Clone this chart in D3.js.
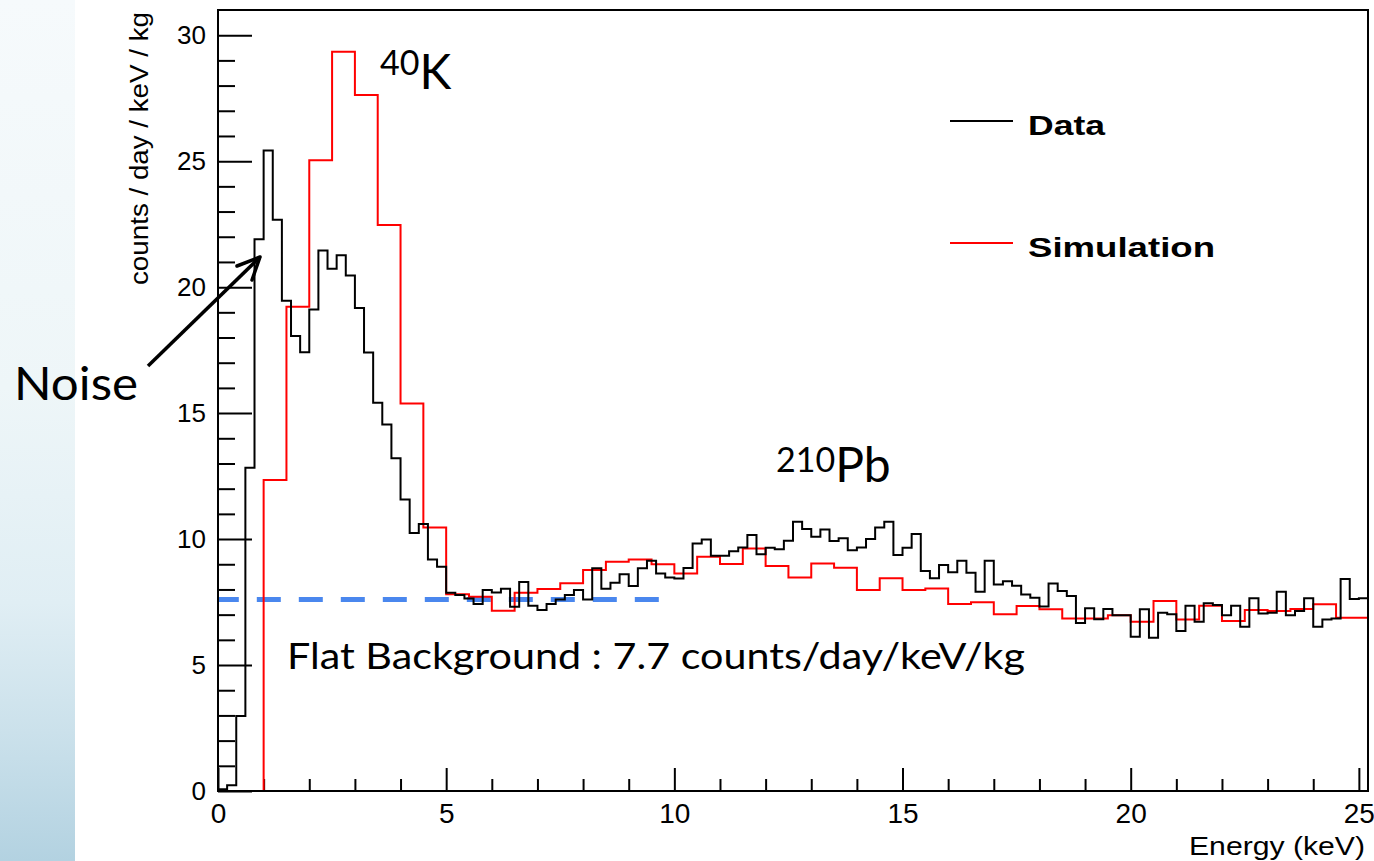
<!DOCTYPE html>
<html lang="en">
<head>
    <meta charset="UTF-8">
    <title>Energy spectrum: Data vs Simulation</title>
    <script src="https://d3js.org/d3.v7.min.js"></script>
    <style>
        * {
            margin: 0;
            padding: 0;
            box-sizing: border-box;
        }

        body {
            background: #ffffff;
            width: 1374px;
            height: 861px;
            overflow: hidden;
        }

        .tick text {
            font-family: 'Liberation Sans', Arial, Helvetica, sans-serif;
            fill: #000;
        }

        .note {
            font-family: Lato, 'Open Sans', 'DejaVu Sans', sans-serif;
            font-weight: 400;
            fill: #000;
        }
    </style>
</head>
<body>
    <div id="chart"></div>

    <script>
        // Data histogram, 0.2 keV bins starting at 0 keV (counts / day / keV / kg)
        const dataBinWidth = 0.2;
        const dataValues = [
            0.07, 0.23, 2.98, 12.83, 21.9, 25.42, 22.67, 19.46, 18.06, 17.42,
            19.11, 21.45, 20.73, 21.27, 20.46, 19.17, 17.41, 15.41, 14.55, 13.21,
            11.57, 10.24, 10.6, 9.19, 8.9, 7.87, 7.78, 7.64, 7.42, 7.98,
            7.88, 8.03, 7.31, 8.3, 7.35, 7.18, 7.42, 7.6, 7.78, 7.98,
            7.6, 8.84, 8.03, 8.27, 8.6, 8.14, 8.84, 9.14, 8.63, 8.47,
            8.43, 8.85, 9.82, 9.98, 9.34, 9.34, 9.52, 9.67, 10.16, 9.4,
            9.66, 9.6, 9.93, 10.69, 10.4, 10.09, 10.38, 9.92, 10.03, 9.56,
            9.67, 10.0, 10.46, 10.69, 9.37, 9.66, 10.2, 8.73, 8.44, 8.97,
            8.68, 9.14, 8.66, 7.91, 9.14, 8.2, 8.33, 8.15, 7.8, 7.67,
            7.32, 8.24, 7.94, 7.74, 6.67, 7.25, 6.82, 7.22, 6.98, 6.98,
            6.12, 7.21, 6.08, 7.08, 7.02, 6.35, 7.35, 6.72, 7.45, 7.38,
            6.98, 7.35, 6.52, 7.65, 7.05, 7.08, 7.91, 6.98, 7.14, 7.65,
            6.52, 6.81, 6.85, 8.41, 7.62, 7.65
        ];

        // Simulation histogram, 0.5 keV bins starting at 0 keV
        const simBinWidth = 0.5;
        const simValues = [
            0, 0, 12.34, 19.22, 25.04, 29.34, 27.63, 22.47, 15.38, 10.46,
            7.81, 7.71, 7.15, 7.87, 8.02, 8.25, 8.77, 9.1, 9.19, 9.0,
            8.63, 9.3, 9.01, 9.63, 8.93, 8.47, 9.03, 8.86, 7.98, 8.44,
            7.98, 8.04, 7.42, 7.49, 7.02, 7.34, 7.21, 6.85, 6.85, 6.98,
            6.72, 7.54, 6.81, 7.35, 6.75, 7.18, 7.14, 7.22, 7.41, 6.88,
            6.88
        ];

        // Axis ranges and ticks
        const xDomain = [0, 25.2];
        const yDomain = [0, 31];
        const xMajorTicks = [0, 5, 10, 15, 20, 25];
        const xMinorTicks = d3.range(0, 26, 1).filter(v => v % 5 !== 0);
        const yMajorTicks = [0, 5, 10, 15, 20, 25, 30];
        const yMinorTicks = d3.range(0, 31, 1).filter(v => v % 5 !== 0);

        // Flat background guide line
        const flatLevel = 7.6;
        const flatRange = [-0.07, 9.67];

        // Legend entries
        const legendLabels = ['Data', 'Simulation'];
        const legendColors = ['#000000', '#ff0000'];

        const width = 1374;
        const height = 861;
        const plot = {left: 218, right: 1368, top: 10, bottom: 791};

        const svg = d3.select('#chart')
            .append('svg')
            .attr('width', width)
            .attr('height', height);

        // Light blue slide strip on the left
        const defs = svg.append('defs');
        const grad = defs.append('linearGradient')
            .attr('id', 'sideGrad')
            .attr('x1', 0).attr('y1', 0).attr('x2', 0).attr('y2', 1);
        grad.append('stop').attr('offset', '0%').attr('stop-color', '#f6fafc');
        grad.append('stop').attr('offset', '45%').attr('stop-color', '#eef6f8');
        grad.append('stop').attr('offset', '70%').attr('stop-color', '#e0eef4');
        grad.append('stop').attr('offset', '85%').attr('stop-color', '#cbe1eb');
        grad.append('stop').attr('offset', '100%').attr('stop-color', '#b3d2e1');

        svg.append('rect')
            .attr('x', 0).attr('y', 0)
            .attr('width', 75).attr('height', height)
            .attr('fill', 'url(#sideGrad)');

        defs.append('clipPath')
            .attr('id', 'plotClip')
            .append('rect')
            .attr('x', plot.left).attr('y', plot.top)
            .attr('width', plot.right - plot.left)
            .attr('height', plot.bottom - plot.top);

        // Scales
        const x = d3.scaleLinear().domain(xDomain).range([plot.left, plot.right]);
        const y = d3.scaleLinear().domain(yDomain).range([plot.bottom, plot.top]);

        // X axis (ticks pointing into the frame)
        svg.append('g')
            .attr('transform', `translate(0,${plot.bottom})`)
            .call(d3.axisBottom(x).tickValues(xMinorTicks).tickSize(-12).tickFormat(''))
            .call(g => g.select('.domain').remove())
            .call(g => g.selectAll('line').attr('stroke', '#000').attr('stroke-width', 2));

        svg.append('g')
            .attr('transform', `translate(0,${plot.bottom})`)
            .call(d3.axisBottom(x).tickValues(xMajorTicks).tickSize(-23).tickPadding(12).tickFormat(d3.format('d')))
            .call(g => g.select('.domain').remove())
            .call(g => g.selectAll('line').attr('stroke', '#000').attr('stroke-width', 2))
            .call(g => g.selectAll('text').style('font-size', '28px'));

        // Y axis
        svg.append('g')
            .attr('transform', `translate(${plot.left},0)`)
            .call(d3.axisLeft(y).tickValues(yMinorTicks).tickSize(-17).tickFormat(''))
            .call(g => g.select('.domain').remove())
            .call(g => g.selectAll('line').attr('stroke', '#000').attr('stroke-width', 2));

        svg.append('g')
            .attr('transform', `translate(${plot.left},0)`)
            .call(d3.axisLeft(y).tickValues(yMajorTicks).tickSize(-34).tickPadding(12).tickFormat(d3.format('d')))
            .call(g => g.select('.domain').remove())
            .call(g => g.selectAll('line').attr('stroke', '#000').attr('stroke-width', 2))
            .call(g => g.selectAll('text').style('font-size', '26px'));

        // Histograms drawn as steps
        function stepPoints(values, binWidth) {
            const pts = values.map((v, i) => [i * binWidth, v]);
            pts.push([values.length * binWidth, values[values.length - 1]]);
            return pts;
        }

        const stepLine = d3.line()
            .x(d => x(d[0]))
            .y(d => y(d[1]))
            .curve(d3.curveStepAfter);

        const plotArea = svg.append('g').attr('clip-path', 'url(#plotClip)');

        // Flat background dashed line
        plotArea.append('line')
            .attr('x1', x(flatRange[0]))
            .attr('x2', x(flatRange[1]))
            .attr('y1', y(flatLevel))
            .attr('y2', y(flatLevel))
            .attr('stroke', '#4a87ee')
            .attr('stroke-width', 5)
            .attr('stroke-dasharray', '24,18');

        plotArea.append('path')
            .datum(stepPoints(simValues, simBinWidth))
            .attr('d', stepLine)
            .attr('fill', 'none')
            .attr('stroke', '#ff0000')
            .attr('stroke-width', 2);

        plotArea.append('path')
            .datum(stepPoints(dataValues, dataBinWidth))
            .attr('d', stepLine)
            .attr('fill', 'none')
            .attr('stroke', '#000000')
            .attr('stroke-width', 2);

        // Frame
        svg.append('rect')
            .attr('x', plot.left).attr('y', plot.top)
            .attr('width', plot.right - plot.left)
            .attr('height', plot.bottom - plot.top)
            .attr('fill', 'none')
            .attr('stroke', '#000')
            .attr('stroke-width', 2);

        // Axis titles
        svg.append('text')
            .attr('x', 1365).attr('y', 855)
            .attr('text-anchor', 'end')
            .attr('textLength', 176)
            .attr('lengthAdjust', 'spacingAndGlyphs')
            .style('font-family', "'Liberation Sans', Arial, sans-serif")
            .style('font-size', '26px')
            .text('Energy (keV)');

        svg.append('text')
            .attr('transform', 'translate(148,12) rotate(-90)')
            .attr('text-anchor', 'end')
            .attr('textLength', 273)
            .attr('lengthAdjust', 'spacingAndGlyphs')
            .style('font-family', "'Liberation Sans', Arial, sans-serif")
            .style('font-size', '26px')
            .text('counts / day / keV / kg');

        // Legend
        const legend = svg.append('g');
        legendLabels.forEach((label, i) => {
            const ly = 121 + i * 122;
            legend.append('line')
                .attr('x1', 950).attr('x2', 1013)
                .attr('y1', ly).attr('y2', ly)
                .attr('stroke', legendColors[i])
                .attr('stroke-width', 2);
            legend.append('text')
                .attr('x', 1028).attr('y', ly + 14)
                .attr('textLength', i === 0 ? 77 : 187)
                .attr('lengthAdjust', 'spacingAndGlyphs')
                .style('font-family', "'Liberation Sans', Arial, sans-serif")
                .style('font-weight', 'bold')
                .style('font-size', '28px')
                .text(label);
        });

        // Annotations
        const k40 = svg.append('text').attr('class', 'note').attr('x', 380).attr('y', 89);
        k40.append('tspan').style('font-size', '34px').attr('dy', -14).text('40');
        k40.append('tspan').style('font-size', '48px').attr('dy', 14).text('K');

        const pb210 = svg.append('text').attr('class', 'note').attr('x', 776).attr('y', 482);
        pb210.append('tspan').style('font-size', '34px').attr('dy', -10).text('210');
        pb210.append('tspan').style('font-size', '48px').attr('dy', 10).text('Pb');

        svg.append('text')
            .attr('class', 'note')
            .attr('x', 287).attr('y', 669)
            .attr('textLength', 738)
            .attr('lengthAdjust', 'spacingAndGlyphs')
            .style('font-size', '37px')
            .text('Flat Background : 7.7 counts/day/keV/kg');

        svg.append('text')
            .attr('class', 'note')
            .attr('x', 14).attr('y', 400)
            .attr('textLength', 124)
            .attr('lengthAdjust', 'spacingAndGlyphs')
            .style('font-size', '46px')
            .text('Noise');

        // Arrow pointing at the noise peak
        svg.append('line')
            .attr('x1', 148).attr('y1', 366)
            .attr('x2', 258).attr('y2', 259)
            .attr('stroke', '#000')
            .attr('stroke-width', 3.5);
        svg.append('path')
            .attr('d', 'M260,257 L237,266 M260,257 L252,280')
            .attr('fill', 'none')
            .attr('stroke', '#000')
            .attr('stroke-width', 3.5)
            .attr('stroke-linecap', 'round');
    </script>
</body>
</html>
